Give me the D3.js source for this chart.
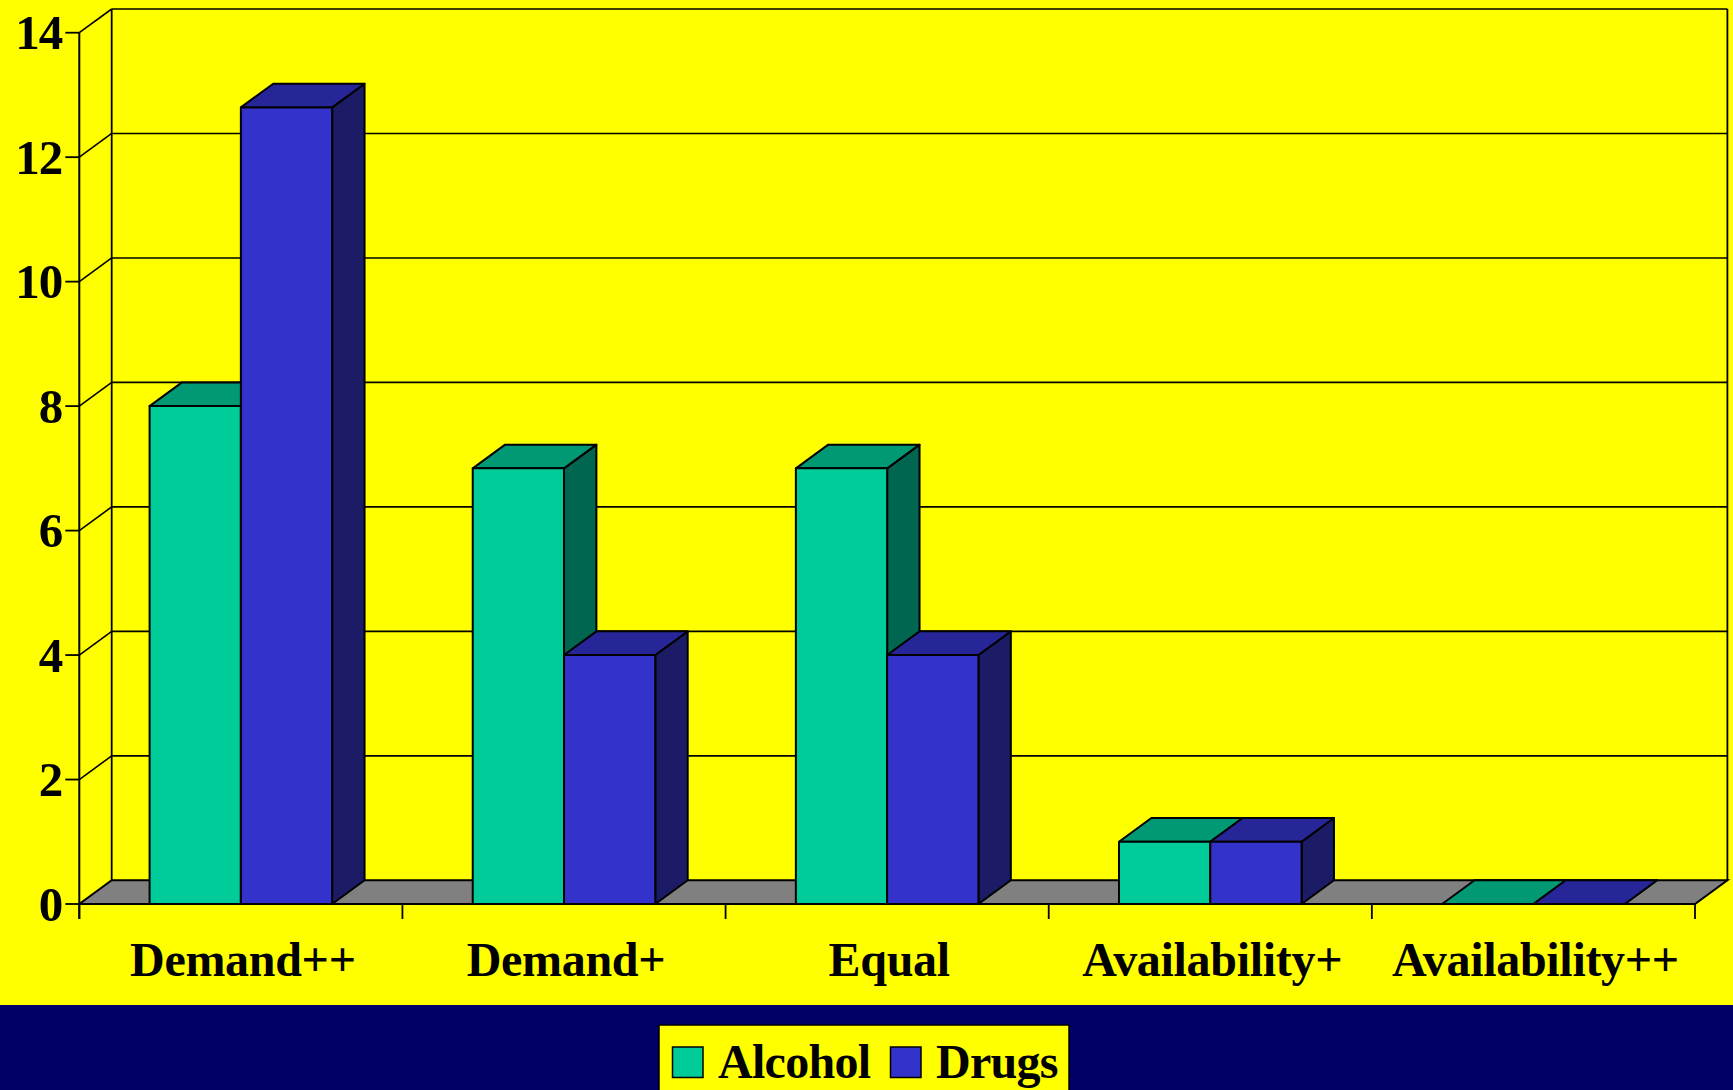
<!DOCTYPE html>
<html><head><meta charset="utf-8">
<script src="https://cdn.jsdelivr.net/npm/d3@7"></script>
<style>html,body{margin:0;padding:0;background:#ffff00;overflow:hidden}</style>
</head><body>
<svg id="c" width="1733" height="1090"></svg>
<script>
const categories = ["Demand++","Demand+","Equal","Availability+","Availability++"];
const seriesNames = ["Alcohol","Drugs"];
const alcohol = [8,7,7,1,0];
const drugs = [12.8,4,4,1,0];
const yTicks = [0,2,4,6,8,10,12,14];

const colors = {
  Alcohol:{front:"#00cc99", top:"#009973", side:"#006650"},
  Drugs:{front:"#3333cc", top:"#262699", side:"#1c1c66"}
};
const W=1733,H=1090;
const svg=d3.select("#c");
const DX=32.4, DY=-23.7;
const x0=79.3, x1=1695, yBase=904, yTop=32.7;
const x=d3.scaleBand().domain(categories).range([x0,x1]).paddingInner(0).paddingOuter(0);
const xs=d3.scaleBand().domain(seriesNames).range([0,x.bandwidth()]).paddingInner(0).paddingOuter(0.77);
const y=d3.scaleLinear().domain([0,14]).range([yBase,yTop]);
const font="'Liberation Serif','Times New Roman',serif";

svg.append("rect").attr("width",W).attr("height",H).attr("fill","#ffff00");
svg.append("rect").attr("x",0).attr("y",1005).attr("width",W).attr("height",H-1005).attr("fill","#000066");

const g=svg.append("g");
// back wall gridlines
yTicks.forEach(t=>{
  if(t===0) return;
  g.append("line").attr("x1",x0+DX).attr("x2",x1+DX).attr("y1",y(t)+DY).attr("y2",y(t)+DY)
   .attr("stroke","#000").attr("stroke-width",1.6);
  g.append("line").attr("x1",x0).attr("x2",x0+DX).attr("y1",y(t)).attr("y2",y(t)+DY)
   .attr("stroke","#000").attr("stroke-width",1.6);
});
// back wall verticals
g.append("line").attr("x1",x0+DX).attr("x2",x0+DX).attr("y1",y(14)+DY).attr("y2",y(0)+DY).attr("stroke","#000").attr("stroke-width",1.8);
g.append("line").attr("x1",x1+DX).attr("x2",x1+DX).attr("y1",y(14)+DY).attr("y2",y(0)+DY).attr("stroke","#000").attr("stroke-width",1.8);
// floor
g.append("path").attr("d",`M${x0},${yBase}L${x1},${yBase}L${x1+DX},${yBase+DY}L${x0+DX},${yBase+DY}Z`)
 .attr("fill","#808080").attr("stroke","#000").attr("stroke-width",2);
// front axis
g.append("line").attr("x1",x0).attr("x2",x0).attr("y1",y(14)).attr("y2",yBase+15).attr("stroke","#000").attr("stroke-width",2);
g.append("line").attr("x1",x0).attr("x2",x1).attr("y1",yBase).attr("y2",yBase).attr("stroke","#000").attr("stroke-width",2);
// y ticks
yTicks.forEach(t=>{
  g.append("line").attr("x1",x0-14).attr("x2",x0).attr("y1",y(t)).attr("y2",y(t)).attr("stroke","#000").attr("stroke-width",1.8);
  g.append("text").attr("x",x0-17).attr("y",y(t)+16.5).attr("text-anchor","end")
   .attr("font-family",font).attr("font-weight","bold").attr("font-size",49).attr("letter-spacing",-1).text(t);
});
// x ticks
for(let k=0;k<=categories.length;k++){
  const xx=x0+k*x.step();
  g.append("line").attr("x1",xx).attr("x2",xx).attr("y1",yBase).attr("y2",yBase+15).attr("stroke","#000").attr("stroke-width",1.8);
}
// bars
const data={Alcohol:alcohol, Drugs:drugs};
categories.forEach((c,i)=>{
  seriesNames.forEach(s=>{
    const v=data[s][i];
    const bx=x(c)+xs(s), bw=xs.bandwidth();
    const yt=y(v), yb=y(0);
    const col=colors[s];
    const bg=g.append("g").attr("stroke","#000").attr("stroke-width",2).attr("stroke-linejoin","round");
    bg.append("path").attr("d",`M${bx+bw},${yb}L${bx+bw+DX},${yb+DY}L${bx+bw+DX},${yt+DY}L${bx+bw},${yt}Z`).attr("fill",col.side);
    bg.append("path").attr("d",`M${bx},${yt}L${bx+DX},${yt+DY}L${bx+bw+DX},${yt+DY}L${bx+bw},${yt}Z`).attr("fill",col.top);
    if(v>0) bg.append("rect").attr("x",bx).attr("y",yt).attr("width",bw).attr("height",yb-yt).attr("fill",col.front);
  });
});
// category labels
categories.forEach(c=>{
  g.append("text").attr("x",x(c)+x.bandwidth()/2+2).attr("y",976).attr("text-anchor","middle")
   .attr("font-family",font).attr("font-weight","bold").attr("font-size",48).attr("letter-spacing",-0.3).text(c);
});
// legend
const lg=svg.append("g");
lg.append("rect").attr("x",659).attr("y",1025).attr("width",410).attr("height",90).attr("fill","#ffff00").attr("stroke","#000").attr("stroke-width",1.5);
const legendItems=[{s:"Alcohol",sx:672.5,tx:718},{s:"Drugs",sx:890.5,tx:936}];
legendItems.forEach(d=>{
  lg.append("rect").attr("x",d.sx).attr("y",1047).attr("width",30.5).attr("height",30.5).attr("fill",colors[d.s].front).attr("stroke","#000").attr("stroke-width",1.5);
  lg.append("text").attr("x",d.tx).attr("y",1078).attr("font-family",font).attr("font-weight","bold").attr("font-size",48).attr("letter-spacing",-0.7).text(d.s);
});
</script>
</body></html>
